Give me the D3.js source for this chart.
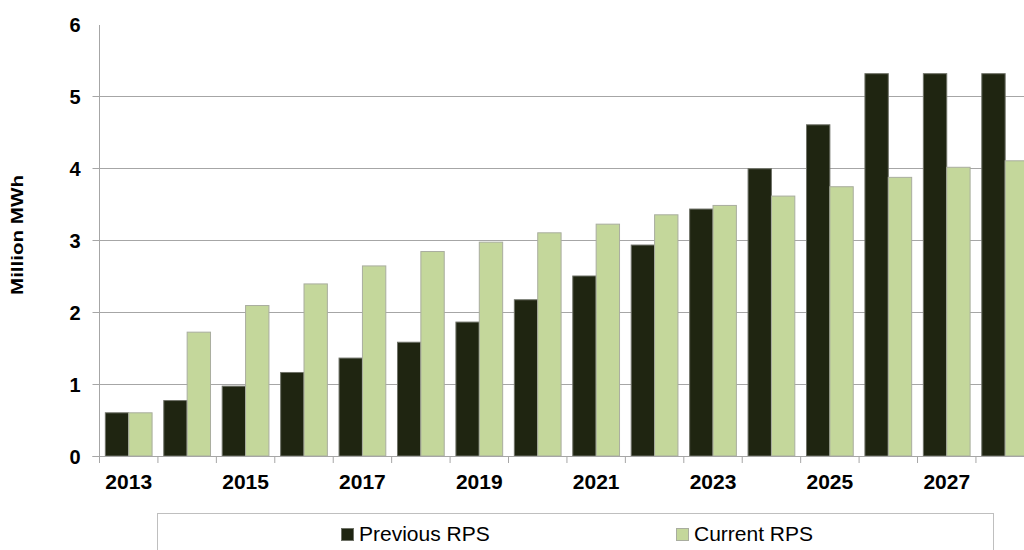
<!DOCTYPE html>
<html>
<head>
<meta charset="utf-8">
<script src="https://cdn.jsdelivr.net/npm/d3@7"></script>
<style>
  html, body { margin: 0; padding: 0; background: #fff; }
  svg { display: block; }
</style>
</head>
<body>
<script>
// Renewable portfolio standard requirements, million MWh per year
const years = [2013, 2014, 2015, 2016, 2017, 2018, 2019, 2020, 2021, 2022, 2023, 2024, 2025, 2026, 2027, 2028];
const previousRPS = [0.60, 0.77, 0.97, 1.16, 1.36, 1.58, 1.86, 2.17, 2.50, 2.93, 3.43, 3.99, 4.60, 5.31, 5.31, 5.31];
const currentRPS  = [0.60, 1.72, 2.09, 2.39, 2.64, 2.84, 2.97, 3.10, 3.22, 3.35, 3.48, 3.61, 3.74, 3.87, 4.01, 4.10];
const seriesNames = ["Previous RPS", "Current RPS"];
const yTicks = [0, 1, 2, 3, 4, 5, 6];
const xLabelYears = [2013, 2015, 2017, 2019, 2021, 2023, 2025, 2027];

const W = 1024, H = 550;
const colors = { "Previous RPS": "#1f2511", "Current RPS": "#c4d79b" };

const svg = d3.select("body").append("svg")
  .attr("width", W).attr("height", H);

const left = 99.5, step = 58.43, y0 = 456, y6 = 24;

const x = d3.scaleBand()
  .domain(years)
  .range([left, left + step * years.length])
  .paddingInner(0).paddingOuter(0);

const xSub = d3.scaleBand()
  .domain(seriesNames)
  .range([x.bandwidth() * 0.1, x.bandwidth() * 0.9])
  .padding(0);

const y = d3.scaleLinear().domain([0, 6]).range([y0, y6]);

// horizontal gridlines
svg.append("g")
  .selectAll("line")
  .data(yTicks.filter(d => d > 0 && d < 6))
  .join("line")
  .attr("x1", left).attr("x2", W)
  .attr("y1", d => Math.round(y(d)) + 0.5)
  .attr("y2", d => Math.round(y(d)) + 0.5)
  .attr("stroke", "#a6a6a6").attr("stroke-width", 1);

// bars
const rows = years.map((yr, i) => ({
  year: yr,
  values: [
    { name: seriesNames[0], value: previousRPS[i] },
    { name: seriesNames[1], value: currentRPS[i] }
  ]
}));

const groups = svg.append("g")
  .selectAll("g")
  .data(rows)
  .join("g")
  .attr("transform", d => `translate(${x(d.year)},0)`);

groups.selectAll("rect")
  .data(d => d.values)
  .join("rect")
  .attr("x", d => xSub(d.name))
  .attr("width", xSub.bandwidth())
  .attr("y", d => y(d.value))
  .attr("height", d => y0 - y(d.value))
  .attr("fill", d => colors[d.name])
  .attr("stroke", d => d.name === seriesNames[0] ? "#6f7268" : "#a9ad9f")
  .attr("stroke-width", 1);

// y axis
const yAxis = d3.axisLeft(y)
  .tickValues(yTicks)
  .tickSize(7)
  .tickPadding(12)
  .tickFormat(d3.format("d"));

const gy = svg.append("g")
  .attr("transform", `translate(${left},0)`)
  .call(yAxis);
gy.select(".domain").attr("stroke", "#a6a6a6").attr("d", `M0,${y6 + 1}V${y0}`);
gy.selectAll(".tick line").attr("stroke", "#a6a6a6")
  .filter(d => d === 6).remove();
gy.selectAll(".tick text")
  .attr("font-family", "Liberation Sans, Arial, sans-serif")
  .attr("font-weight", "bold")
  .attr("font-size", 20)
  .attr("fill", "#000")
  .attr("dy", "0.36em");

// x axis: ticks at category boundaries, labels on alternate years
const gx = svg.append("g").attr("transform", `translate(0,${y0})`);
gx.append("line")
  .attr("x1", left - 7).attr("x2", W)
  .attr("y1", 0.5).attr("y2", 0.5)
  .attr("stroke", "#a6a6a6");
gx.selectAll("line.tick")
  .data(years)
  .join("line")
  .attr("class", "tick")
  .attr("x1", d => x(d)).attr("x2", d => x(d))
  .attr("y1", 0).attr("y2", 7)
  .attr("stroke", "#a6a6a6");
gx.selectAll("text")
  .data(xLabelYears)
  .join("text")
  .attr("x", d => x(d) + x.bandwidth() / 2)
  .attr("y", 33)
  .attr("text-anchor", "middle")
  .attr("font-family", "Liberation Sans, Arial, sans-serif")
  .attr("font-weight", "bold")
  .attr("font-size", 21)
  .attr("fill", "#000")
  .text(d => d);

// y axis title
svg.append("text")
  .attr("transform", "translate(23,235) rotate(-90)")
  .attr("text-anchor", "middle")
  .attr("font-family", "Liberation Sans, Arial, sans-serif")
  .attr("font-weight", "bold")
  .attr("font-size", 17)
  .attr("textLength", 120)
  .attr("lengthAdjust", "spacingAndGlyphs")
  .attr("fill", "#000")
  .text("Million MWh");

// legend
const legend = svg.append("g");
legend.append("rect")
  .attr("x", 157.5).attr("y", 513.5)
  .attr("width", 836).attr("height", 60)
  .attr("fill", "#fff")
  .attr("stroke", "#bfbfbf");

const legendPos = [341, 676];
const items = legend.selectAll("g.item")
  .data(seriesNames)
  .join("g")
  .attr("class", "item")
  .attr("transform", (d, i) => `translate(${legendPos[i]},0)`);
items.append("rect")
  .attr("x", 0.5).attr("y", 528.5)
  .attr("width", 12).attr("height", 12)
  .attr("fill", d => colors[d])
  .attr("stroke", d => d === seriesNames[0] ? "#6f7268" : "#a9ad9f");
items.append("text")
  .attr("x", 18).attr("y", 541)
  .attr("font-family", "Liberation Sans, Arial, sans-serif")
  .attr("font-size", 21)
  .attr("fill", "#000")
  .text(d => d);
</script>
</body>
</html>
